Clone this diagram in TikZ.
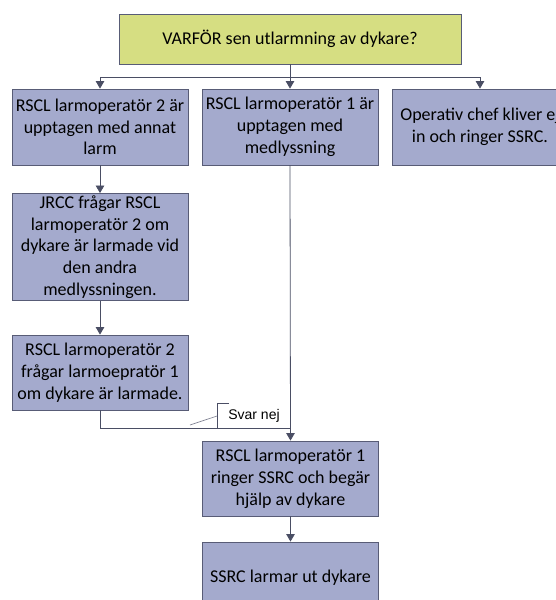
\documentclass[tikz,border=0pt]{standalone}
\usepackage{fontspec}
\setmainfont{Carlito}
\newfontfamily\notefont{Liberation Sans}
\usetikzlibrary{arrows.meta,positioning,calc}

\begin{document}
\begin{tikzpicture}[x=1pt, y=-1pt,
        box/.style={draw=vboxline, fill=vboxfill, line width=0.8pt, minimum width=176pt, align=center, inner sep=2pt, font=\fontsize{18}{21.8}\selectfont},
        arr/.style={draw=vline, line width=0.8pt, -{Triangle[width=8.5pt,length=7.5pt]}},
        link/.style={draw=vline, line width=0.8pt}]
        \definecolor{vboxfill}{RGB}{164,170,205}
        \definecolor{vboxline}{RGB}{88,92,118}
        \definecolor{vtopfill}{RGB}{214,222,130}
        \definecolor{vline}{RGB}{74,78,100}

        % Frame of the page, the right column runs past it
        \useasboundingbox (0,0) rectangle (556,600);
        \clip (0,0) rectangle (556,600);

        % Question on top
        \node[box, fill=vtopfill, minimum width=342pt, minimum height=50pt] (why) at (290,39) {VARFÖR sen utlarmning av dykare?};

        % First row of causes
        \node[box, minimum height=76pt] (busy2) at (100,127) {RSCL larmoperatör 2 är\\upptagen med annat\\larm};
        \node[box, minimum height=76pt] (busy1) at (290,127) {RSCL larmoperatör 1 är\\upptagen med\\medlyssning};
        \node[box, minimum height=76pt] (chief) at (480,127) {Operativ chef kliver ej\\in och ringer SSRC.};

        % Left chain
        \node[box, minimum height=100pt] (jrcc) at (100,247) {JRCC frågar RSCL\\larmoperatör 2 om\\dykare är larmade vid\\den andra\\medlyssningen.};
        \node[box, minimum height=75pt] (ask) at (100,372.5) {RSCL larmoperatör 2\\frågar larmoepratör 1\\om dykare är larmade.};

        % Middle chain
        \node[box, minimum height=75pt] (ring) at (290.5,478.5) {RSCL larmoperatör 1\\ringer SSRC och begär\\hjälp av dykare};
        \node[box, minimum height=72pt] (alert) at (290.5,578) {SSRC larmar ut dykare};

        % Fork below the question
        \coordinate (fork) at ($(why.south)+(0,13)$);
        \draw[link] (why.south) -- (fork);
        \draw[arr] (fork) -| (busy2.north);
        \draw[arr] (fork) -- (busy1.north);
        \draw[arr] (fork) -| (chief.north);

        % Arrows
        \draw[arr] (busy2) -- (jrcc);
        \draw[arr] (jrcc) -- (ask);
        \draw[arr] (busy1.south) -- (ring.north);
        \draw[arr] (ring) -- (alert);
        \coordinate (merge) at ($(ask.south)+(0,18)$);
        \draw[link] (ask.south) -- (merge) -- (merge -| ring.north);

        % Callout on the answer
        \node[font=\notefont\fontsize{14}{16}\selectfont, inner xsep=11pt, minimum height=24pt] (answer) at (254,416) {Svar nej};
        \coordinate (answertip) at (190,425);
        \draw[vline, line width=0.8pt] ([xshift=12pt]answer.north west) -- (answer.north west) -- (answer.south west) -- ([xshift=12pt]answer.south west);
        \draw[vline!70, line width=0.7pt] (answer.west) -- (answertip);
\end{tikzpicture}
\end{document}
